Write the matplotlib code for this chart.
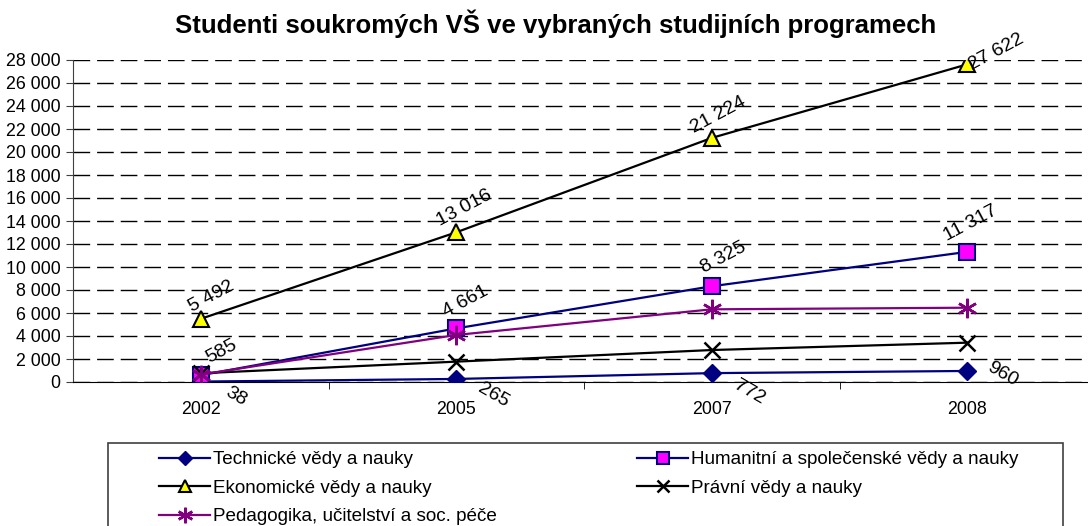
import matplotlib
matplotlib.use("Agg")
import matplotlib.pyplot as plt
from matplotlib.patches import Rectangle
from matplotlib.ticker import FuncFormatter, FixedLocator

plt.rcParams['font.family'] = ['Liberation Sans', 'DejaVu Sans']

years = ['2002', '2005', '2007', '2008']
technicke = [38, 265, 772, 960]
humanitni = [585, 4661, 8325, 11317]
ekonomicke = [5492, 13016, 21224, 27622]
pravni = [760, 1770, 2780, 3420]
pedagogika = [650, 4090, 6320, 6460]

W, H = 1088, 526
fig = plt.figure(figsize=(W / 100, H / 100), dpi=100)

# axes placement in pixels (left axis at x=73, y=0 at 382, 28000 at 60)
x0, y0, y1 = 73, 382, 60
cat_w = 255.5
ax = fig.add_axes([x0 / W, 1 - y0 / H, (W - x0) / W, (y0 - y1) / H])
ax.set_xlim(-0.5, -0.5 + (W - x0) / cat_w)
ax.set_ylim(0, 28000)

x = list(range(len(years)))

ax.plot(x, technicke, color='#000080', lw=1.6, marker='D', ms=9,
        mfc='#000080', mec='#000080', zorder=3, label='Technické vědy a nauky')
ax.plot(x, humanitni, color='#000080', lw=1.6, marker='s', ms=11,
        mfc='#FF00FF', mec='#000080', mew=1.5, zorder=3,
        label='Humanitní a společenské vědy a nauky')
ax.plot(x, ekonomicke, color='black', lw=1.6, marker='^', ms=11,
        mfc='#FFFF00', mec='black', mew=1.5, zorder=3,
        label='Ekonomické vědy a nauky')
ax.plot(x, pravni, color='black', lw=1.6, marker='x', ms=11, mew=1.8,
        mec='black', zorder=3, label='Právní vědy a nauky')
ax.plot(x, pedagogika, color='#800080', lw=1.6, marker=(6, 2, 0), ms=14,
        mew=1.8, mec='#800080', zorder=3,
        label='Pedagogika, učitelství a soc. péče')


def fmt(v):
    return f"{int(v):,}".replace(",", " ")


# data labels (offsets in pixels)
eko_off = [(11, 22), (8, 24), (7, 23), (29, 12)]
hum_off = [(21, 24), (9, 27), (12, 29), (3, 29)]
tech_off = [(35, -15), (37, -16), (38, -19), (35, -3)]
lbl_size = 14
for i in x:
    ax.annotate(fmt(ekonomicke[i]), (i, ekonomicke[i]), xytext=eko_off[i],
                textcoords='offset pixels', ha='center', va='center',
                rotation=28, fontsize=lbl_size)
    ax.annotate(fmt(humanitni[i]), (i, humanitni[i]), xytext=hum_off[i],
                textcoords='offset pixels', ha='center', va='center',
                rotation=28, fontsize=lbl_size)
    ax.annotate(fmt(technicke[i]), (i, technicke[i]), xytext=tech_off[i],
                textcoords='offset pixels', ha='center', va='center',
                rotation=-30, fontsize=lbl_size, annotation_clip=False)

# grid and axes
ax.set_yticks(range(0, 28001, 2000))
ax.yaxis.set_major_formatter(FuncFormatter(lambda v, p: fmt(v)))
ax.grid(axis='y', color='black', lw=1, dashes=(12, 5))
ax.set_axisbelow(True)
for s in ['top', 'right']:
    ax.spines[s].set_visible(False)
ax.spines['left'].set_color('#404040')
ax.spines['bottom'].set_color('black')
ax.tick_params(axis='y', direction='out', length=5, pad=4, labelsize=12.8,
               color='#404040')

ax.set_xticks(x)
ax.set_xticklabels(years)
ax.xaxis.set_minor_locator(FixedLocator([0.5, 1.5, 2.5, 3.5]))
ax.tick_params(axis='x', which='major', length=0, pad=14, labelsize=12.8)
ax.tick_params(axis='x', which='minor', direction='out', length=5,
               color='black')

fig.text(556 / W, 1 - 24 / H,
         'Studenti soukromých VŠ ve vybraných studijních programech',
         ha='center', va='center', fontsize=18.5, fontweight='bold')

# legend box (runs off the bottom edge)
fig.patches.append(Rectangle((108 / W, -0.1), (1063 - 108) / W,
                             (1 - 443 / H) + 0.1, transform=fig.transFigure,
                             fill=False, edgecolor='#404040', lw=1.2))
handles, labels = ax.get_legend_handles_labels()
order = [0, 2, 4, 1, 3]
fig.legend([handles[i] for i in order], [labels[i] for i in order],
           loc='upper left', bbox_to_anchor=(159 / W, 1 - 451 / H),
           ncol=2, frameon=False, fontsize=13.6, handlelength=2.7,
           handletextpad=0.15, columnspacing=7.45, labelspacing=0.6,
           borderpad=0, borderaxespad=0, markerscale=0.8)

fig.savefig('out.png', dpi=100)
